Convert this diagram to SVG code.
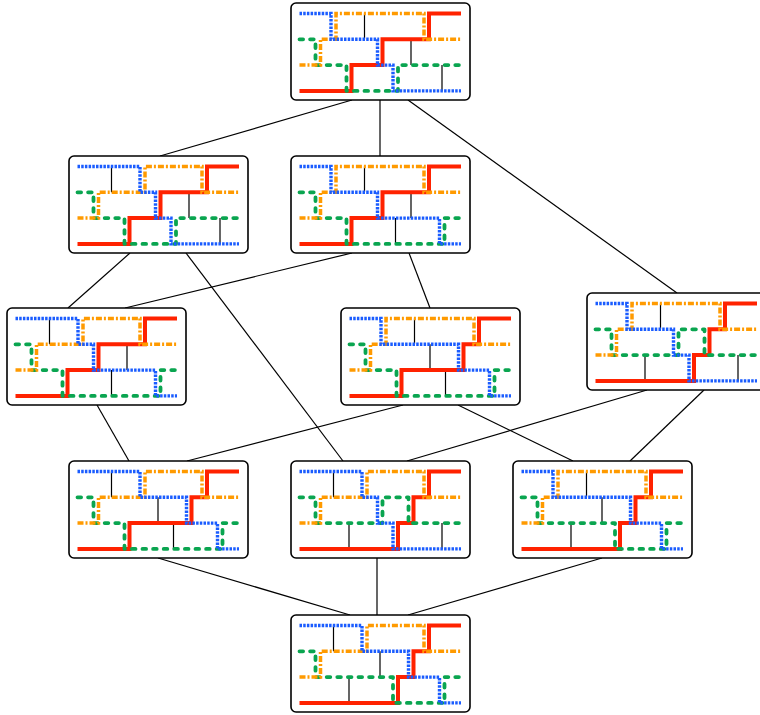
<svg xmlns="http://www.w3.org/2000/svg" width="760" height="715" viewBox="0 0 760 715">
<style>
.box{fill:#fff;stroke:#000;stroke-width:1.6}
.rung{stroke:#000;stroke-width:1.2;fill:none}
.edge{stroke:#000;stroke-width:1.2;fill:none}
.r{fill:none;stroke:#ff2200;stroke-width:4;stroke-linejoin:miter}
.g{fill:none;stroke:#0aa550;stroke-width:3.8;stroke-dasharray:3.6 7;stroke-linecap:round;stroke-linejoin:round}
.o{fill:none;stroke:#ff9a00;stroke-width:3.5;stroke-dasharray:6 2 2 2}
.b{fill:none;stroke:#1a5cff;stroke-width:3.4;stroke-dasharray:2.5 1.2}
</style>
<rect width="760" height="715" fill="#fff"/>
<g id="edges">
<line class="edge" x1="352" y1="100" x2="160" y2="156"/>
<line class="edge" x1="380" y1="100" x2="380" y2="156"/>
<line class="edge" x1="408" y1="100" x2="677" y2="293"/>
<line class="edge" x1="130" y1="253" x2="68" y2="308"/>
<line class="edge" x1="186" y1="253" x2="343" y2="461"/>
<line class="edge" x1="352" y1="253" x2="125" y2="308"/>
<line class="edge" x1="409" y1="253" x2="430" y2="308"/>
<line class="edge" x1="97" y1="405" x2="129" y2="461"/>
<line class="edge" x1="403" y1="405" x2="187" y2="461"/>
<line class="edge" x1="458" y1="405" x2="573" y2="461"/>
<line class="edge" x1="647" y1="390" x2="407" y2="461"/>
<line class="edge" x1="704" y1="390" x2="630" y2="461"/>
<line class="edge" x1="158" y1="558" x2="350" y2="615"/>
<line class="edge" x1="377" y1="558" x2="377" y2="615"/>
<line class="edge" x1="602" y1="558" x2="408" y2="615"/>
</g>
<g id="n1" transform="translate(291,3)">
<rect class="box" width="179" height="97" rx="5"/>
<path class="rung" d="M73.5,10.5V36.3M120,36.3V62.1M151,62.1V87.9"/>
<path class="r" d="M8.5,87.9H60.5V62.1H91.5V36.3H138V10.5H170"/>
<path class="g" d="M8.5,36.3H24.5V62.1H55.5V87.9H107V62.1H170"/>
<path class="o" d="M8.5,62.1H29.5V36.3H45V10.5H133V36.3H170"/>
<path class="b" d="M8.5,10.5H40V36.3H86.5V62.1H102V87.9H170"/>
</g>
<g id="n2" transform="translate(69,156)">
<rect class="box" width="179" height="97" rx="5"/>
<path class="rung" d="M42.5,10.5V36.3M120,36.3V62.1M151,62.1V87.9"/>
<path class="r" d="M8.5,87.9H60.5V62.1H91.5V36.3H138V10.5H170"/>
<path class="g" d="M8.5,36.3H24.5V62.1H55.5V87.9H107V62.1H170"/>
<path class="o" d="M8.5,62.1H29.5V36.3H76V10.5H133V36.3H170"/>
<path class="b" d="M8.5,10.5H71V36.3H86.5V62.1H102V87.9H170"/>
</g>
<g id="n3" transform="translate(291,156)">
<rect class="box" width="179" height="97" rx="5"/>
<path class="rung" d="M73.5,10.5V36.3M104.5,62.1V87.9M120,36.3V62.1"/>
<path class="r" d="M8.5,87.9H60.5V62.1H91.5V36.3H138V10.5H170"/>
<path class="g" d="M8.5,36.3H24.5V62.1H55.5V87.9H153.5V62.1H170"/>
<path class="o" d="M8.5,62.1H29.5V36.3H45V10.5H133V36.3H170"/>
<path class="b" d="M8.5,10.5H40V36.3H86.5V62.1H148.5V87.9H170"/>
</g>
<g id="n4" transform="translate(7,308)">
<rect class="box" width="179" height="97" rx="5"/>
<path class="rung" d="M42.5,10.5V36.3M104.5,62.1V87.9M120,36.3V62.1"/>
<path class="r" d="M8.5,87.9H60.5V62.1H91.5V36.3H138V10.5H170"/>
<path class="g" d="M8.5,36.3H24.5V62.1H55.5V87.9H153.5V62.1H170"/>
<path class="o" d="M8.5,62.1H29.5V36.3H76V10.5H133V36.3H170"/>
<path class="b" d="M8.5,10.5H71V36.3H86.5V62.1H148.5V87.9H170"/>
</g>
<g id="n5" transform="translate(341,308)">
<rect class="box" width="179" height="97" rx="5"/>
<path class="rung" d="M73.5,10.5V36.3M89,36.3V62.1M104.5,62.1V87.9"/>
<path class="r" d="M8.5,87.9H60.5V62.1H122.5V36.3H138V10.5H170"/>
<path class="g" d="M8.5,36.3H24.5V62.1H55.5V87.9H153.5V62.1H170"/>
<path class="o" d="M8.5,62.1H29.5V36.3H45V10.5H133V36.3H170"/>
<path class="b" d="M8.5,10.5H40V36.3H117.5V62.1H148.5V87.9H170"/>
</g>
<g id="n6" transform="translate(587,293)">
<rect class="box" width="179" height="97" rx="5"/>
<path class="rung" d="M58,62.1V87.9M73.5,10.5V36.3M151,62.1V87.9"/>
<path class="r" d="M8.5,87.9H107V62.1H122.5V36.3H138V10.5H170"/>
<path class="g" d="M8.5,36.3H24.5V62.1H91.5V36.3H117.5V62.1H170"/>
<path class="o" d="M8.5,62.1H29.5V36.3H45V10.5H133V36.3H170"/>
<path class="b" d="M8.5,10.5H40V36.3H86.5V62.1H102V87.9H170"/>
</g>
<g id="n7" transform="translate(69,461)">
<rect class="box" width="179" height="97" rx="5"/>
<path class="rung" d="M42.5,10.5V36.3M89,36.3V62.1M104.5,62.1V87.9"/>
<path class="r" d="M8.5,87.9H60.5V62.1H122.5V36.3H138V10.5H170"/>
<path class="g" d="M8.5,36.3H24.5V62.1H55.5V87.9H153.5V62.1H170"/>
<path class="o" d="M8.5,62.1H29.5V36.3H76V10.5H133V36.3H170"/>
<path class="b" d="M8.5,10.5H71V36.3H117.5V62.1H148.5V87.9H170"/>
</g>
<g id="n8" transform="translate(291,461)">
<rect class="box" width="179" height="97" rx="5"/>
<path class="rung" d="M42.5,10.5V36.3M58,62.1V87.9M151,62.1V87.9"/>
<path class="r" d="M8.5,87.9H107V62.1H122.5V36.3H138V10.5H170"/>
<path class="g" d="M8.5,36.3H24.5V62.1H91.5V36.3H117.5V62.1H170"/>
<path class="o" d="M8.5,62.1H29.5V36.3H76V10.5H133V36.3H170"/>
<path class="b" d="M8.5,10.5H71V36.3H86.5V62.1H102V87.9H170"/>
</g>
<g id="n9" transform="translate(513,461)">
<rect class="box" width="179" height="97" rx="5"/>
<path class="rung" d="M58,62.1V87.9M73.5,10.5V36.3M89,36.3V62.1"/>
<path class="r" d="M8.5,87.9H107V62.1H122.5V36.3H138V10.5H170"/>
<path class="g" d="M8.5,36.3H24.5V62.1H102V87.9H153.5V62.1H170"/>
<path class="o" d="M8.5,62.1H29.5V36.3H45V10.5H133V36.3H170"/>
<path class="b" d="M8.5,10.5H40V36.3H117.5V62.1H148.5V87.9H170"/>
</g>
<g id="n10" transform="translate(291,615)">
<rect class="box" width="179" height="97" rx="5"/>
<path class="rung" d="M42.5,10.5V36.3M58,62.1V87.9M89,36.3V62.1"/>
<path class="r" d="M8.5,87.9H107V62.1H122.5V36.3H138V10.5H170"/>
<path class="g" d="M8.5,36.3H24.5V62.1H102V87.9H153.5V62.1H170"/>
<path class="o" d="M8.5,62.1H29.5V36.3H76V10.5H133V36.3H170"/>
<path class="b" d="M8.5,10.5H71V36.3H117.5V62.1H148.5V87.9H170"/>
</g>
</svg>
